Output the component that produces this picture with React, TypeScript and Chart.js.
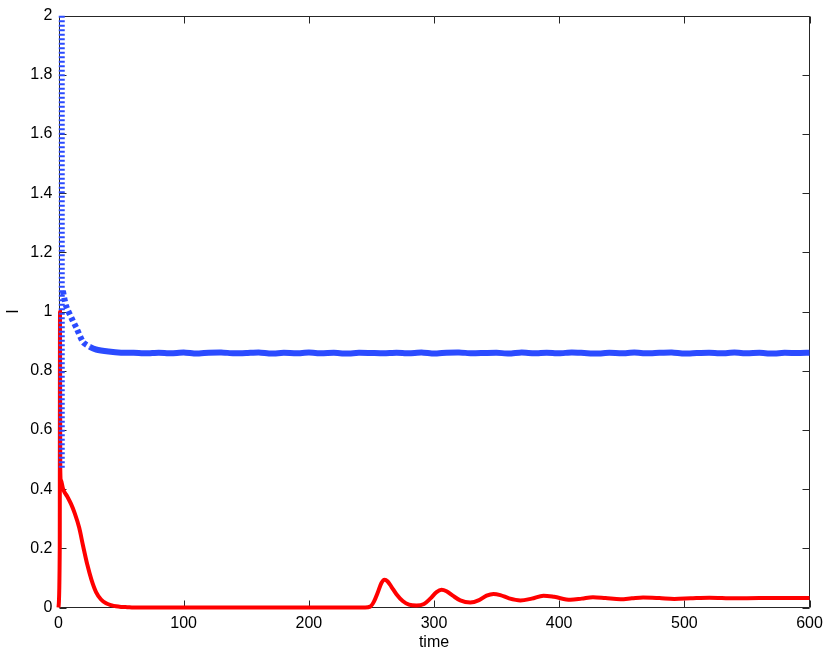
import { useEffect, useRef } from 'react';
import { Chart, registerables } from 'chart.js';

Chart.register(...registerables);

// ---- data ----
const redTime = [0, 1.0, 1.2, 1.4, 2.0, 3.7, 7, 10, 13, 16.5, 19.7, 23, 26.3, 30, 34, 38, 42, 46, 50, 55, 60, 245, 249, 252, 255, 258, 260.5, 263, 266, 270, 275, 280, 286, 292, 297, 302, 306, 310, 315, 321, 329, 336, 342, 347.5, 353, 360, 369, 378, 387.5, 396, 409, 418, 427, 437, 449, 458, 467, 480, 492, 505, 520, 540, 560, 580, 600];
const redValue = [0, 0.2, 1.0, 0.47, 0.43, 0.40, 0.375, 0.35, 0.318, 0.27, 0.207, 0.145, 0.094, 0.052, 0.027, 0.014, 0.008, 0.004, 0.002, 0.001, 0, 0, 0.003, 0.02, 0.05, 0.083, 0.094, 0.088, 0.07, 0.045, 0.022, 0.01, 0.007, 0.012, 0.03, 0.052, 0.06, 0.055, 0.04, 0.024, 0.017, 0.025, 0.04, 0.046, 0.042, 0.031, 0.024, 0.03, 0.04, 0.036, 0.026, 0.03, 0.035, 0.032, 0.028, 0.031, 0.034, 0.032, 0.029, 0.031, 0.033, 0.031, 0.032, 0.032, 0.032];

const blueColumnTime = [2.6, 2.6];
const blueColumnValue = [2.0, 0.47];

const blueTime = [3.5, 6, 10.4, 14.3, 19.7, 25, 30, 40, 50,
  60, 70, 80, 90, 100, 110, 120, 130, 140, 150,
  160, 170, 180, 190, 200, 210, 220, 230, 240, 250,
  260, 270, 280, 290, 300, 310, 320, 330, 340, 350,
  360, 370, 380, 390, 400, 410, 420, 430, 440, 450,
  460, 470, 480, 490, 500, 510, 520, 530, 540, 550,
  560, 570, 580, 590, 600];
const blueValue = [1.07, 1.02, 0.978, 0.945, 0.896, 0.881, 0.872, 0.865, 0.861,
  0.861, 0.859, 0.861, 0.859, 0.862, 0.858, 0.861, 0.862, 0.859, 0.860,
  0.862, 0.858, 0.861, 0.859, 0.862, 0.859, 0.861, 0.858, 0.861, 0.860,
  0.859, 0.861, 0.859, 0.862, 0.858, 0.861, 0.862, 0.859, 0.860, 0.861,
  0.858, 0.862, 0.859, 0.861, 0.859, 0.862, 0.860, 0.858, 0.861, 0.859,
  0.862, 0.859, 0.861, 0.862, 0.858, 0.860, 0.861, 0.859, 0.862, 0.859,
  0.861, 0.858, 0.861, 0.860, 0.861];

const BLUE = '#2b4bff';
const RED = '#ff0000';
const FONT = '"Liberation Sans", Arial, Helvetica, sans-serif';

const toPoints = (xs: number[], ys: number[]) => xs.map((x, i) => ({ x, y: ys[i] }));

const framePlugin = {
  id: 'matlabFrame',
  beforeDatasetsDraw(chart: any) {
    const { ctx, chartArea } = chart;
    const { left, right, top, bottom } = chartArea;
    const xs = chart.scales.x;
    const ys = chart.scales.y;
    const L = 7;
    ctx.save();
    ctx.strokeStyle = '#262626';
    ctx.lineWidth = 1;
    ctx.beginPath();
    const l = Math.round(left) + 0.5, r = Math.round(right) - 0.5;
    const t = Math.round(top) + 0.5, b = Math.round(bottom) - 0.5;
    ctx.rect(l, t, r - l, b - t);
    xs.ticks.forEach((tk: any) => {
      const p = Math.round(xs.getPixelForValue(tk.value)) + 0.5;
      ctx.moveTo(p, b); ctx.lineTo(p, b - L);
      ctx.moveTo(p, t); ctx.lineTo(p, t + L);
    });
    ys.ticks.forEach((tk: any) => {
      const p = Math.round(ys.getPixelForValue(tk.value)) + 0.5;
      ctx.moveTo(l, p); ctx.lineTo(l + L, p);
      ctx.moveTo(r, p); ctx.lineTo(r - L, p);
    });
    ctx.stroke();
    ctx.restore();
  },
};

export default function App() {
  const ref = useRef<HTMLCanvasElement | null>(null);

  useEffect(() => {
    if (!ref.current) return;
    const chart = new Chart(ref.current, {
      type: 'line',
      data: {
        datasets: [
          {
            label: 'blue column',
            data: toPoints(blueColumnTime, blueColumnValue),
            borderColor: BLUE,
            borderWidth: 6,
            borderDash: [2, 2.5],
            pointRadius: 0,
            fill: false,
            clip: false,
          } as any,
          {
            label: 'blue',
            data: toPoints(blueTime, blueValue),
            borderColor: BLUE,
            borderWidth: 6,
            pointRadius: 0,
            tension: 0.2,
            fill: false,
            clip: false,
            segment: {
              borderDash: (c: any) => (c.p0.parsed.x < 22 ? [4, 3] : undefined),
            },
          } as any,
          {
            label: 'red',
            data: toPoints(redTime, redValue),
            borderColor: RED,
            borderWidth: 4,
            pointRadius: 0,
            cubicInterpolationMode: 'monotone',
            fill: false,
            clip: false,
          } as any,
        ],
      },
      options: {
        animation: false,
        responsive: false,
        maintainAspectRatio: false,
        layout: { padding: { left: 0, right: 20.5, top: 15.7, bottom: 0 } },
        plugins: { legend: { display: false }, tooltip: { enabled: false } },
        scales: {
          x: {
            type: 'linear',
            min: 0,
            max: 600,
            grid: { display: false, drawTicks: false },
            border: { display: false },
            ticks: {
              stepSize: 100,
              color: '#000',
              padding: 6,
              maxRotation: 0,
              font: { family: FONT, size: 16 },
            },
            title: {
              display: true,
              text: 'time',
              color: '#000',
              font: { family: FONT, size: 16 },
              padding: { top: 0, bottom: 4 },
            },
            afterFit: (s: any) => { s.height = 48.5; },
          },
          y: {
            type: 'linear',
            min: 0,
            max: 2,
            grid: { display: false, drawTicks: false },
            border: { display: false },
            ticks: {
              stepSize: 0.2,
              color: '#000',
              padding: 6,
              font: { family: FONT, size: 16 },
              callback: (v: any) => String(Number(Number(v).toFixed(1))),
            },
            title: {
              display: true,
              text: 'I',
              color: '#000',
              font: { family: FONT, size: 16 },
              padding: { top: 4, bottom: 0 },
            },
            afterFit: (s: any) => { s.width = 58.5; },
          },
        },
      },
      plugins: [framePlugin],
    });
    return () => chart.destroy();
  }, []);

  return (
    <div style={{ position: 'fixed', left: 0, top: 0, width: 830, height: 656, background: '#fff' }}>
      <canvas ref={ref} width={830} height={656} style={{ width: 830, height: 656, display: 'block' }} />
    </div>
  );
}
